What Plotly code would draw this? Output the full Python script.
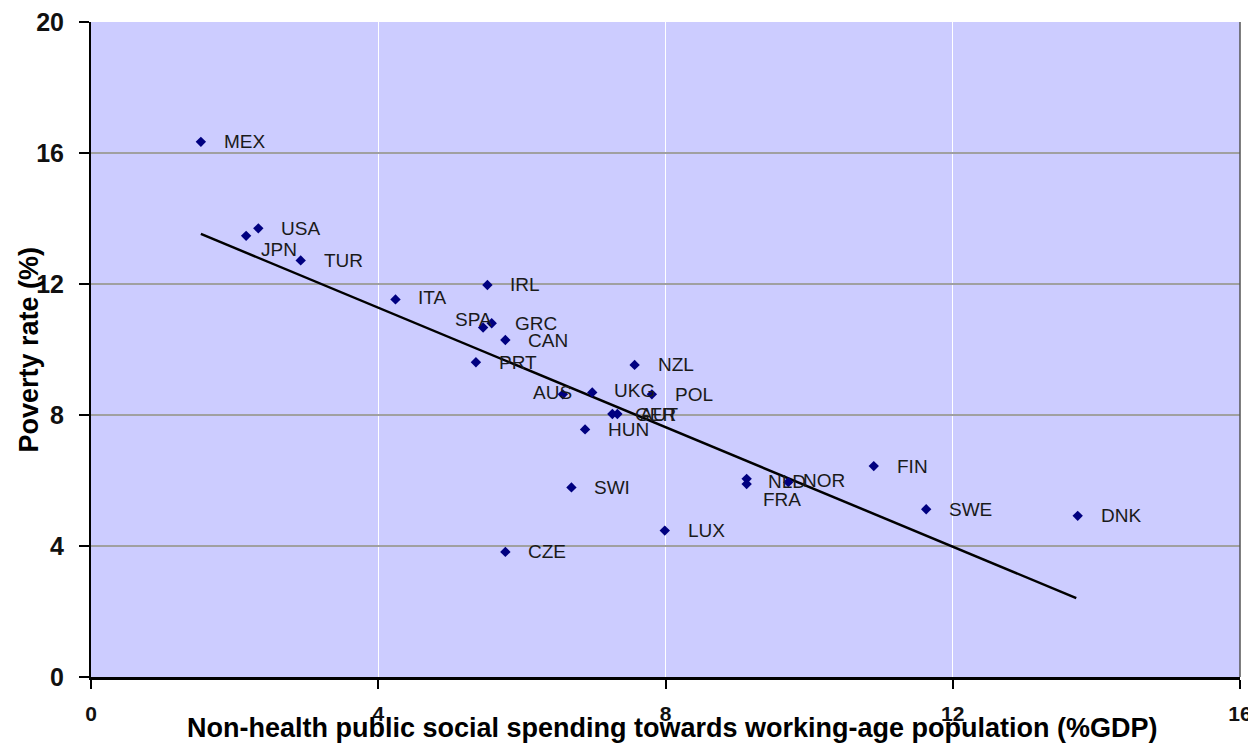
import plotly.graph_objects as go

# ── Data ────────────────────────────────────────────────
countries = ["MEX", "USA", "JPN", "TUR", "ITA", "IRL", "SPA", "GRC", "CAN", "PRT",
             "NZL", "AUS", "UKG", "POL", "GER", "AUT", "HUN", "SWI", "LUX", "CZE",
             "NLD", "FRA", "NOR", "FIN", "SWE", "DNK"]
spending = [1.53, 2.33, 2.16, 2.92, 4.24, 5.52, 5.46, 5.58, 5.77, 5.36,
            7.57, 6.57, 6.98, 7.81, 7.26, 7.33, 6.88, 6.69, 7.99, 5.77,
            9.13, 9.13, 9.71, 10.90, 11.63, 13.74]
poverty = [16.34, 13.70, 13.47, 12.72, 11.53, 11.97, 10.67, 10.80, 10.29, 9.61,
           9.53, 8.63, 8.69, 8.63, 8.03, 8.03, 7.56, 5.79, 4.47, 3.82,
           6.05, 5.89, 5.95, 6.44, 5.12, 4.92]

# trend line end points as drawn
trend_x = [1.53, 13.72]
trend_y = [13.53, 2.41]

x_ticks = [0, 4, 8, 12, 16]
y_ticks = [0, 4, 8, 12, 16, 20]

# label placement (pixel offsets, anchor) – style only
LABEL_STYLE = {
    "JPN": (13, -14, "left"),
    "SPA": (11, 8, "right"),
    "AUS": (11, 2, "right"),
    "UKG": (20, 2, "left"),
    "ITA": (21, 2, "left"),
    "NLD": (19, -3, "left"),
    "FRA": (14, -15, "left"),
    "NOR": (13, 2, "left"),
    "AUT": (21, 0, "left"),
}

BG = "#CCCCFF"
NAVY = "#000080"
FONT = "Liberation Sans, Arial, sans-serif"

fig = go.Figure()

fig.add_trace(go.Scatter(
    x=trend_x, y=trend_y, mode="lines",
    line=dict(color="#000000", width=2.5),
    hoverinfo="skip", showlegend=False,
))

fig.add_trace(go.Scatter(
    x=spending, y=poverty, mode="markers",
    marker=dict(symbol="diamond", size=8, color=NAVY),
    text=countries, hovertemplate="%{text}: %{x}, %{y}<extra></extra>",
    showlegend=False,
))

for c, xv, yv in zip(countries, spending, poverty):
    dx, dy, anchor = LABEL_STYLE.get(c, (21, 0, "left"))
    fig.add_annotation(
        x=xv, y=yv, text=c, showarrow=False,
        xanchor=anchor, yanchor="middle", xshift=dx, yshift=dy,
        font=dict(family=FONT, size=19, color="#1a1a1a"),
    )

# axis titles sit close to the plot, overlapped by tick labels as in the original
fig.add_annotation(
    x=0.5057, y=0, xref="paper", yref="paper", yanchor="middle", yshift=-51,
    text="<b>Non-health public social spending towards working-age population (%GDP)</b>",
    showarrow=False,
    font=dict(family=FONT, size=27, color="#000000"),
)
fig.add_annotation(
    x=0, y=0.5, xref="paper", yref="paper", xanchor="center", yanchor="middle",
    xshift=-63, textangle=-90,
    text="<b>Poverty rate (%)</b>", showarrow=False,
    font=dict(family=FONT, size=27, color="#000000"),
)

# right border of the plot area
fig.add_shape(type="line", xref="paper", yref="paper", x0=1, x1=1, y0=0, y1=1,
              line=dict(color="#555555", width=1.5))

fig.update_layout(
    width=1248, height=739,
    paper_bgcolor="#FFFFFF",
    plot_bgcolor=BG,
    margin=dict(l=83, r=16, t=14, b=70),
    xaxis=dict(
        range=[0, 16], tickvals=x_ticks, ticktext=[f"<b>{v}</b>" for v in x_ticks],
        showgrid=True, gridcolor="#FFFFFF", gridwidth=1,
        zeroline=False, showline=True, linecolor="#000000", linewidth=3,
        ticks="outside", ticklen=9, tickwidth=2, tickcolor="#000000",
        tickfont=dict(family=FONT, size=21, color="#111111"),
        ticklabelstandoff=7, automargin=False, ticklabeloverflow="allow",
    ),
    yaxis=dict(
        range=[0, 20], tickvals=y_ticks, ticktext=[f"<b>{v}</b>" for v in y_ticks],
        showgrid=True, gridcolor="#A0A0A0", gridwidth=1.5,
        zeroline=False, showline=True, linecolor="#000000", linewidth=2,
        ticks="outside", ticklen=10, tickwidth=2, tickcolor="#000000",
        tickfont=dict(family=FONT, size=25, color="#111111"), ticklabelstandoff=10,
        automargin=False, ticklabeloverflow="allow",
    ),
)

fig.write_html("out.html")
